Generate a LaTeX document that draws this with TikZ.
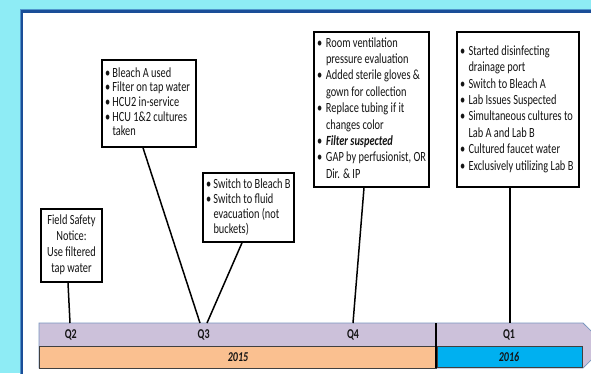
\documentclass[tikz,border=0pt]{standalone}
\usepackage{fontspec}
\newfontfamily\cf{Carlito}[FakeStretch=0.74]
\usetikzlibrary{calc}
\definecolor{bgcyan}{RGB}{142,236,245}
\definecolor{panelblue}{RGB}{26,78,152}
\definecolor{panelline}{RGB}{80,150,205}
\definecolor{qpurple}{RGB}{204,193,218}
\definecolor{qedge}{RGB}{120,150,190}
\definecolor{yorange}{RGB}{250,192,144}
\definecolor{ycyan}{RGB}{0,176,240}
\definecolor{txt}{RGB}{20,20,20}
\newlength\bw
\newcommand\bi[1]{\makebox[\bw][l]{•}#1}
\newcommand\ci[1]{\hspace*{\bw}#1}
\newcommand\tl[4]{\setlength\bw{#2}\makebox[#1][l]{\fontsize{14}{#3}\selectfont\begin{tabular}{@{}l@{}}#4\end{tabular}}}
\tikzset{
  boxst/.style={draw=black, line width=1.6pt, fill=white, inner xsep=3pt, inner ysep=0pt, text=txt, font=\cf},
  conn/.style={draw=black, line width=1.5pt},
  qlab/.style={text=txt, font=\cf\fontsize{13.5}{15}\selectfont\bfseries, inner sep=0pt},
  ylab/.style={text=txt, font=\cf\fontsize{13.5}{15}\selectfont\bfseries\itshape, inner sep=0pt}
}
\begin{document}
\begin{tikzpicture}[x=1pt,y=-1pt]
\useasboundingbox (0,0) rectangle (591,373);
\clip (0,0) rectangle (591,373);
\fill[bgcyan] (0,0) rectangle (591,373);
% panel
\draw[panelline, line width=0.8pt, fill=white] (20,9) rectangle (640,420);
\draw[panelblue, line width=2.6pt] (22,11.2) rectangle (640,420);
% timeline bar
\draw[qedge, line width=0.8pt, fill=qpurple] (39,323) -- (583,323) -- (606,345.5) -- (583,368) -- (39,368) -- cycle;
\draw[black!75, line width=0.8pt, fill=yorange] (39,346) rectangle (436,368);
\draw[black!75, line width=0.8pt, fill=ycyan] (437,346) rectangle (582,367);
\draw[black, line width=1.6pt] (436,323) -- (436,368);
% bar attachment points
\coordinate (p2) at (70,323);
\coordinate (p3a) at (200,323);
\coordinate (p3b) at (207,323);
\coordinate (p4) at (353,323);
\coordinate (p1) at (510,323);
% labels
\node[qlab] (q2) at (70.8,334.5) {Q2};
\node[qlab] (q3) at (203.7,334.5) {Q3};
\node[qlab] (q4) at (353,334.5) {Q4};
\node[qlab] (q1) at (509,334.5) {Q1};
\node[ylab] (y15) at (238,357) {2015};
\node[ylab] (y16) at (509,357) {2016};
% boxes
\node[boxst, minimum width=61pt, minimum height=73pt] (fs) at (71.5,245.5)
  {\fontsize{14}{16}\selectfont\begin{tabular}{@{}c@{}}Field Safety\\Notice:\\Use filtered\\tap water\end{tabular}};
\node[boxst, minimum width=94pt, minimum height=87pt] (ba) at (149,103.5)
  {\tl{88pt}{7.5pt}{14.7}{\bi{Bleach A used}\\ \bi{Filter on tap water}\\ \bi{HCU2 in-service}\\ \bi{HCU 1\&2 cultures}\\ \ci{taken}}};
\node[boxst, minimum width=91pt, minimum height=69pt] (bb) at (248.5,207.5)
  {\tl{85pt}{7.5pt}{15}{\bi{Switch to Bleach B}\\ \bi{Switch to fluid}\\ \ci{evacuation (not}\\ \ci{buckets)}}};
\node[boxst, minimum width=115pt, minimum height=155pt] (rv) at (371.5,109.5)
  {\tl{109pt}{9pt}{16.4}{\bi{Room ventilation}\\ \ci{pressure evaluation}\\ \bi{Added sterile gloves \&}\\ \ci{gown for collection}\\ \bi{Replace tubing if it}\\ \ci{changes color}\\ \bi{\textbf{\textit{Filter suspected}}}\\ \bi{GAP by perfusionist, OR}\\ \ci{Dir. \& IP}}};
\node[boxst, minimum width=122pt, minimum height=155pt] (sd) at (518,109.5)
  {\tl{116pt}{8.5pt}{16.4}{\bi{Started disinfecting}\\ \ci{drainage port}\\ \bi{Switch to Bleach A}\\ \bi{Lab Issues Suspected}\\ \bi{Simultaneous cultures to}\\ \ci{Lab A and Lab B}\\ \bi{Cultured faucet water}\\ \bi{Exclusively utilizing Lab B}}};
% connectors
\draw[conn] ([xshift=-3.5pt]fs.south) -- (p2);
\draw[conn] ([xshift=-6pt]ba.south) -- (p3a);
\draw[conn] ([xshift=-6.5pt]bb.south) -- (p3b);
\draw[conn] ([xshift=-7.5pt]rv.south) -- (p4);
\draw[conn] ([xshift=-8pt]sd.south) -- (p1);
\end{tikzpicture}
\end{document}
